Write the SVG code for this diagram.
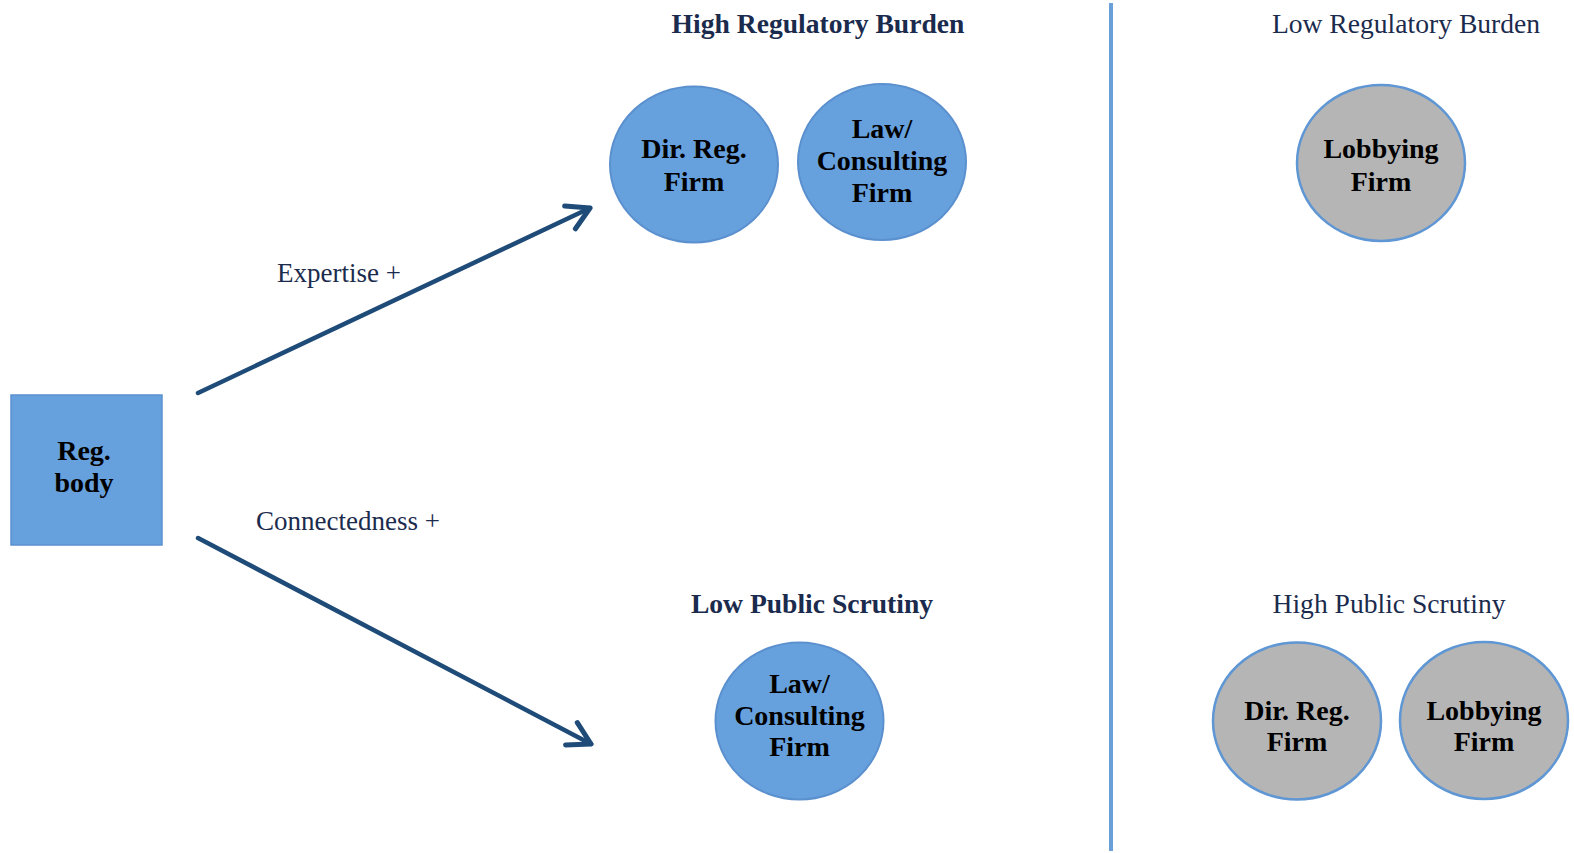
<svg xmlns="http://www.w3.org/2000/svg" width="1574" height="853" viewBox="0 0 1574 853">
<defs>
<style>
.blue{fill:#67a1dd;stroke:#5b90cf;stroke-width:2}
.gray{fill:#b5b5b5;stroke:#5f96d4;stroke-width:2.5}
.nt{font-family:"Liberation Serif","Times New Roman",serif;font-weight:bold;font-size:28px;fill:#000;text-anchor:middle}
.title{font-family:"Liberation Serif","Times New Roman",serif;font-size:27.6px;fill:#1b2b4d;text-anchor:middle}
.b{font-weight:bold}
.lab{font-family:"Liberation Serif","Times New Roman",serif;font-size:27px;fill:#1b2b4d}
.conn{stroke:#1f4b78;stroke-width:4.5;fill:none;stroke-linecap:round}
</style>
<marker id="arr" viewBox="0 0 20 20" refX="18" refY="10" markerWidth="7" markerHeight="7" markerUnits="strokeWidth" orient="auto">
<path d="M4,2 L18,10 L4,18" fill="none" stroke="#1f4b78" stroke-width="3.2" stroke-linecap="round" stroke-linejoin="round"/>
</marker>
</defs>
<rect width="1574" height="853" fill="#fff"/>
<line x1="1111" y1="3" x2="1111" y2="851" stroke="#6b9fd8" stroke-width="4"/>
<text class="title b" x="818" y="33">High Regulatory Burden</text>
<text class="title" x="1406" y="33">Low Regulatory Burden</text>
<text class="title b" x="812" y="613">Low Public Scrutiny</text>
<text class="title" x="1389" y="613">High Public Scrutiny</text>
<g id="connectors">
<line class="conn" x1="198" y1="393" x2="590" y2="208" marker-end="url(#arr)"/>
<line class="conn" x1="198" y1="538" x2="591" y2="744" marker-end="url(#arr)"/>
<text class="lab" x="277" y="282">Expertise +</text>
<text class="lab" x="256" y="530">Connectedness +</text>
</g>
<g id="regbody">
<rect x="11" y="395" width="151" height="150" fill="#67a1dd" stroke="#5b90cf" stroke-width="1.5"/>
<text class="nt" x="84" y="460">Reg.</text>
<text class="nt" x="84" y="492">body</text>
</g>
<g id="dirreg-high">
<ellipse class="blue" cx="694" cy="164.5" rx="84" ry="78"/>
<text class="nt" x="694" y="158">Dir. Reg.</text>
<text class="nt" x="694" y="191">Firm</text>
</g>
<g id="law-high">
<ellipse class="blue" cx="882" cy="162" rx="84" ry="78"/>
<text class="nt" x="882" y="138">Law/</text>
<text class="nt" x="882" y="169.5">Consulting</text>
<text class="nt" x="882" y="202">Firm</text>
</g>
<g id="lobby-low">
<ellipse class="gray" cx="1381" cy="163" rx="84" ry="78"/>
<text class="nt" x="1381" y="158">Lobbying</text>
<text class="nt" x="1381" y="191">Firm</text>
</g>
<g id="law-lowps">
<ellipse class="blue" cx="799.5" cy="721" rx="84" ry="78.5"/>
<text class="nt" x="799.5" y="693">Law/</text>
<text class="nt" x="799.5" y="725">Consulting</text>
<text class="nt" x="799.5" y="756">Firm</text>
</g>
<g id="dirreg-highps">
<ellipse class="gray" cx="1297" cy="721" rx="84" ry="78.5"/>
<text class="nt" x="1297" y="720">Dir. Reg.</text>
<text class="nt" x="1297" y="751">Firm</text>
</g>
<g id="lobby-highps">
<ellipse class="gray" cx="1484" cy="720.5" rx="84" ry="78.5"/>
<text class="nt" x="1484" y="720">Lobbying</text>
<text class="nt" x="1484" y="751">Firm</text>
</g>
</svg>
